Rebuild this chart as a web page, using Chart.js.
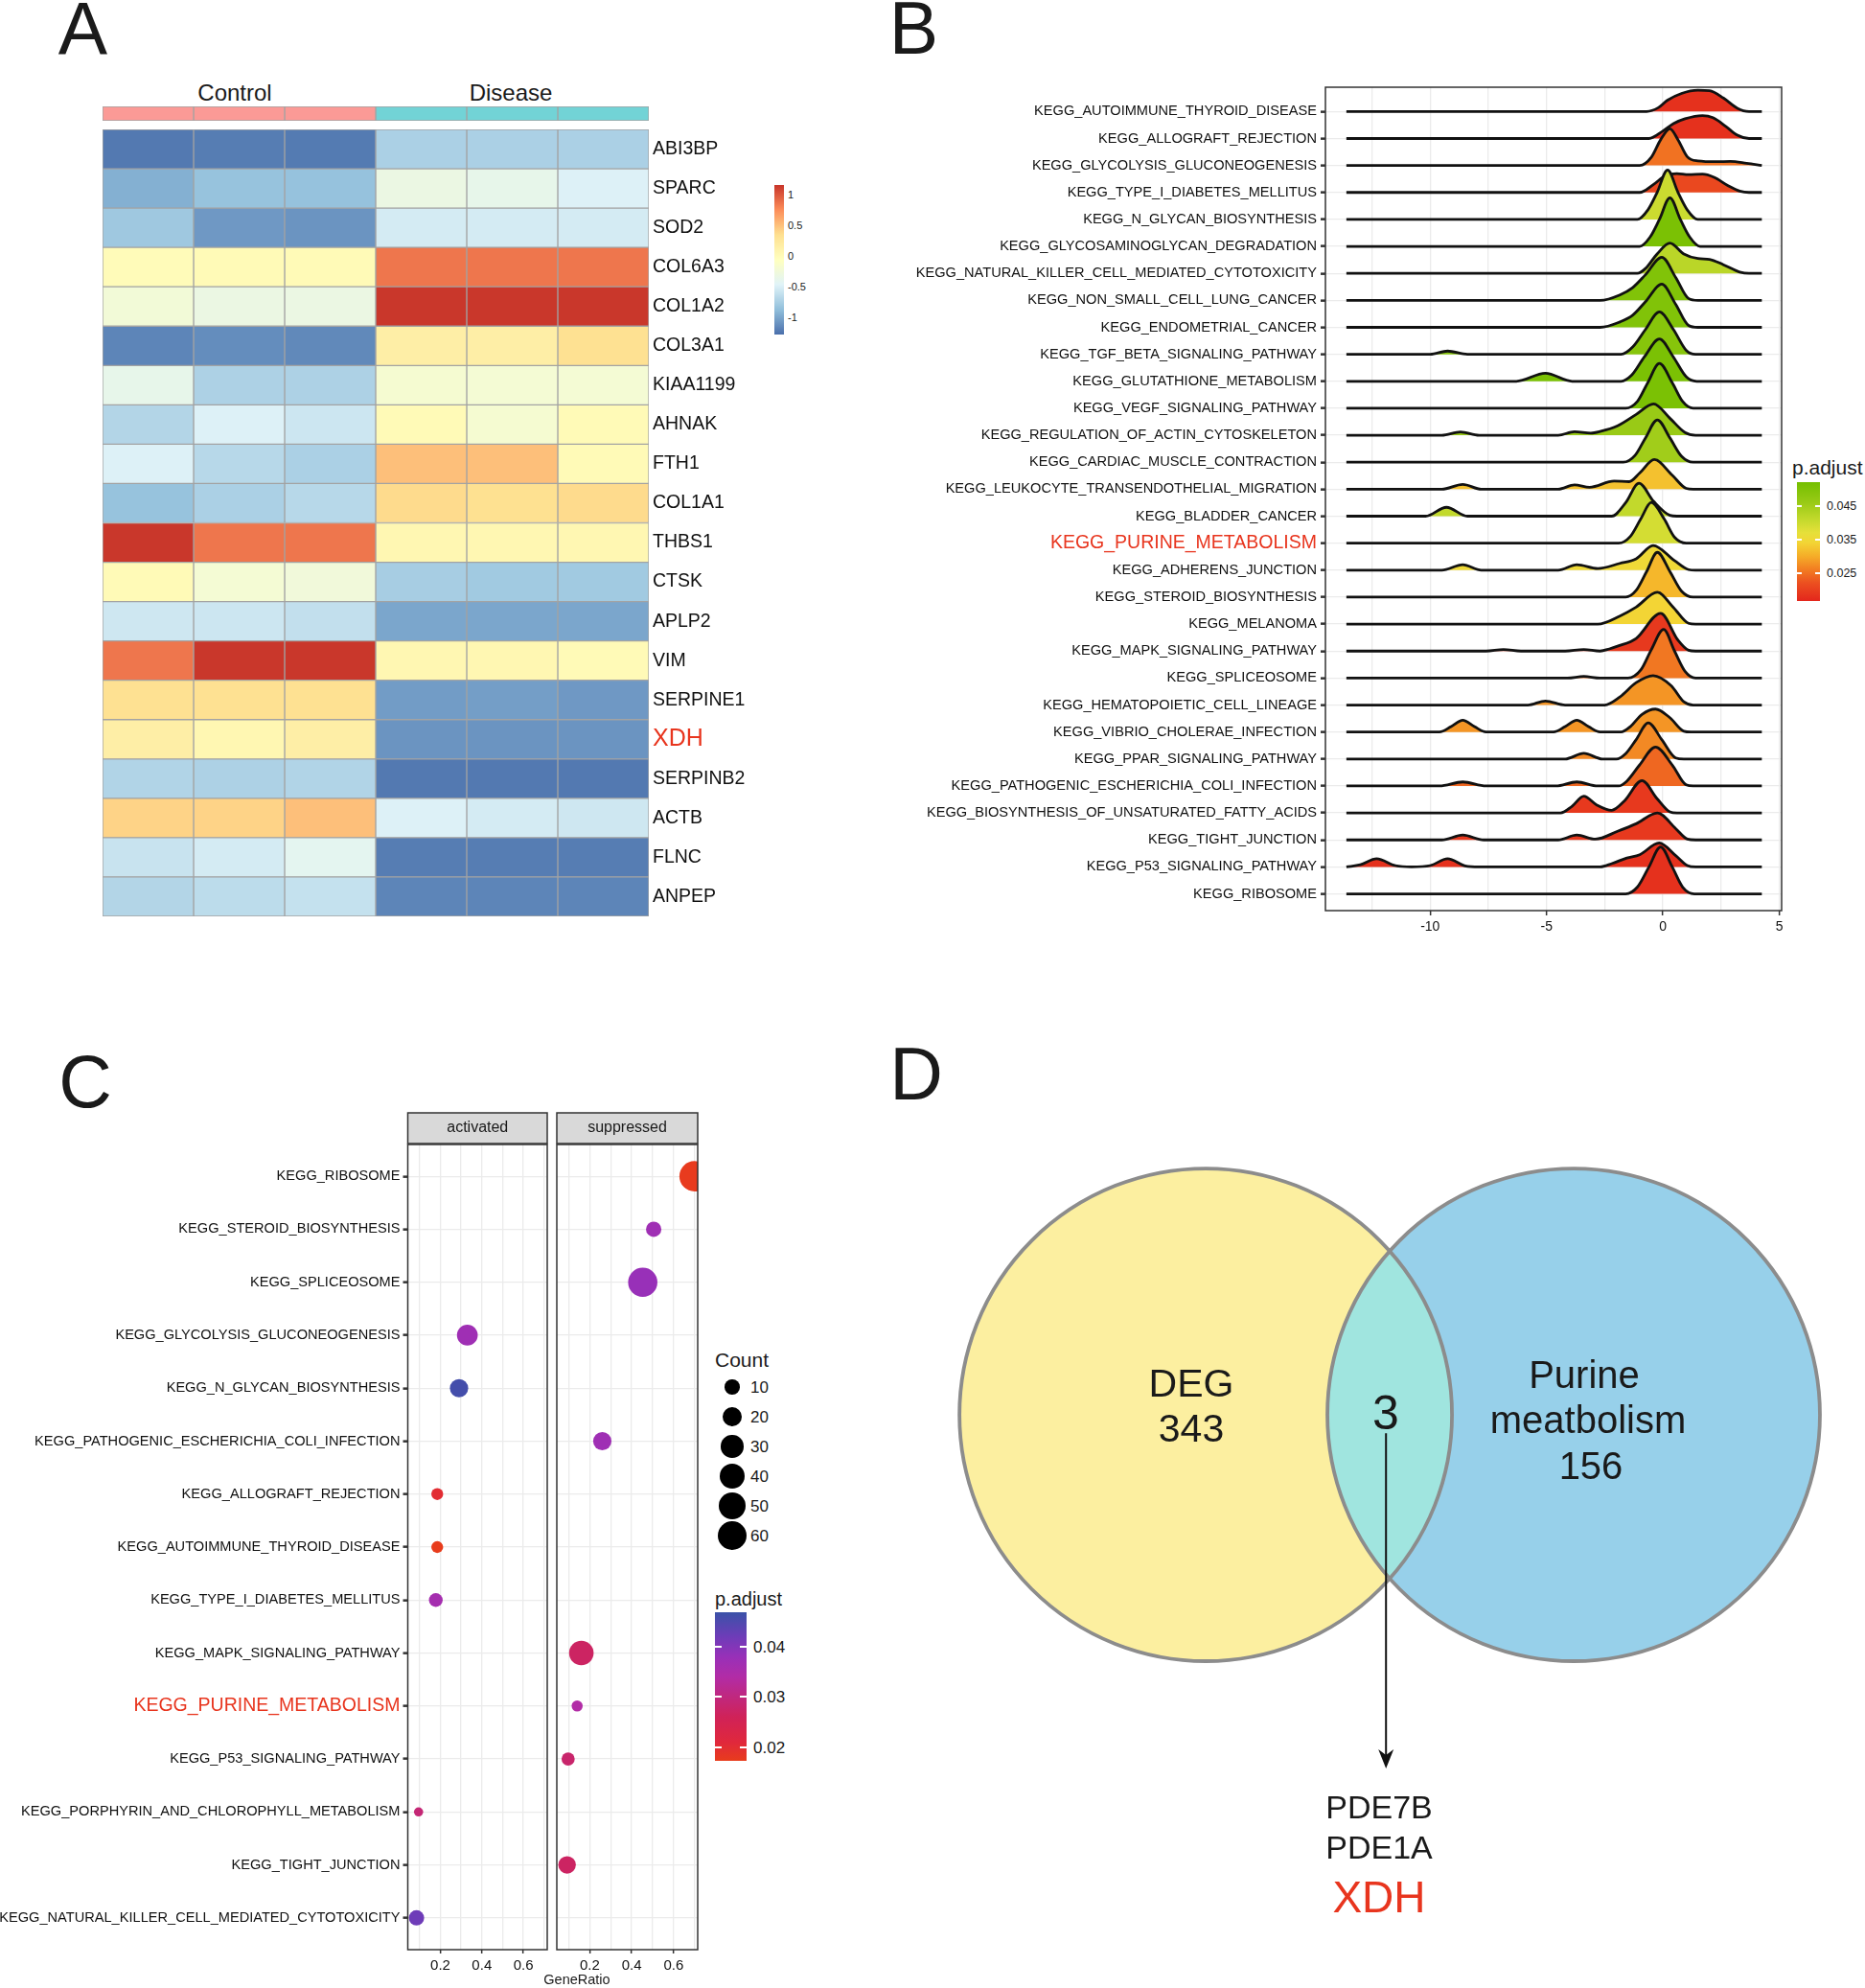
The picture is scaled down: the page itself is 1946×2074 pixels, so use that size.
<!DOCTYPE html>
<html lang="en">
<head>
<meta charset="UTF-8" />
<title>Heatmap · GSEA ridgeplot · dotplot · Venn</title>
<script src="https://cdn.jsdelivr.net/npm/chart.js@4.4.3/dist/chart.umd.js"></script>
<style>
  html,body{margin:0;padding:0;background:#fff}
  body{position:relative;width:1946px;height:2074px;overflow:hidden;
       font-family:"Liberation Sans",Arial,Helvetica,sans-serif;color:#1a1a1a}
  canvas{position:absolute;display:block}
  .lbl{position:absolute;white-space:nowrap;line-height:1}
  .box{position:absolute}
</style>
</head>
<body>
  <!-- A : heatmap -->
  <canvas id="hmAnno" width="570" height="15" style="left:107px;top:111px"></canvas>
  <canvas id="hmChart" width="707" height="831" style="left:100px;top:130px"></canvas>
  <!-- B : ridgeplot -->
  <canvas id="ridgeChart" width="930" height="900" style="left:940px;top:80px"></canvas>
  <!-- C : dotplot, two facets -->
  <canvas id="dotAct" width="580" height="924" style="left:0;top:1150px"></canvas>
  <canvas id="dotSup" width="162" height="924" style="left:576px;top:1150px"></canvas>
  <!-- D : Venn -->
  <canvas id="vennChart" width="996" height="894" style="left:950px;top:1180px"></canvas>

<script>
/* ==== PANEL A DATA : heatmap (row z-scores) ==== */
const hmGenes = ['ABI3BP','SPARC','SOD2','COL6A3','COL1A2','COL3A1','KIAA1199','AHNAK','FTH1','COL1A1',
                 'THBS1','CTSK','APLP2','VIM','SERPINE1','XDH','SERPINB2','ACTB','FLNC','ANPEP'];
const hmGroups = ['Control','Control','Control','Disease','Disease','Disease'];
const hmZ = [
  [-1.22,-1.20,-1.21,-0.73,-0.73,-0.73],
  [-0.94,-0.83,-0.84,-0.31,-0.36,-0.47],
  [-0.79,-1.06,-1.08,-0.52,-0.52,-0.52],
  [ 0.00, 0.02, 0.02, 0.87, 0.87, 0.87],
  [-0.22,-0.31,-0.31, 1.16, 1.16, 1.16],
  [-1.16,-1.12,-1.14, 0.17, 0.17, 0.34],
  [-0.36,-0.72,-0.72,-0.18,-0.20,-0.20],
  [-0.69,-0.47,-0.56, 0.02,-0.18, 0.02],
  [-0.47,-0.67,-0.73, 0.52, 0.52, 0.02],
  [-0.83,-0.73,-0.67, 0.38, 0.35, 0.38],
  [ 1.16, 0.87, 0.87, 0.06, 0.06, 0.06],
  [ 0.02,-0.20,-0.24,-0.75,-0.78,-0.78],
  [-0.55,-0.56,-0.61,-0.99,-0.99,-0.99],
  [ 0.87, 1.16, 1.16, 0.06, 0.06, 0.02],
  [ 0.34, 0.34, 0.34,-1.04,-1.03,-1.06],
  [ 0.17, 0.06, 0.17,-1.08,-1.08,-1.08],
  [-0.70,-0.72,-0.70,-1.22,-1.22,-1.22],
  [ 0.42, 0.42, 0.52,-0.47,-0.52,-0.55],
  [-0.58,-0.52,-0.40,-1.20,-1.20,-1.20],
  [-0.69,-0.64,-0.60,-1.16,-1.16,-1.16]
];
const hmLegendTicks = [1, 0.5, 0, -0.5, -1];

/* ==== PANEL B DATA : ridgeplot (top row first) ==== */
const ridgePaths = [
  'KEGG_AUTOIMMUNE_THYROID_DISEASE','KEGG_ALLOGRAFT_REJECTION','KEGG_GLYCOLYSIS_GLUCONEOGENESIS',
  'KEGG_TYPE_I_DIABETES_MELLITUS','KEGG_N_GLYCAN_BIOSYNTHESIS','KEGG_GLYCOSAMINOGLYCAN_DEGRADATION',
  'KEGG_NATURAL_KILLER_CELL_MEDIATED_CYTOTOXICITY','KEGG_NON_SMALL_CELL_LUNG_CANCER','KEGG_ENDOMETRIAL_CANCER',
  'KEGG_TGF_BETA_SIGNALING_PATHWAY','KEGG_GLUTATHIONE_METABOLISM','KEGG_VEGF_SIGNALING_PATHWAY',
  'KEGG_REGULATION_OF_ACTIN_CYTOSKELETON','KEGG_CARDIAC_MUSCLE_CONTRACTION','KEGG_LEUKOCYTE_TRANSENDOTHELIAL_MIGRATION',
  'KEGG_BLADDER_CANCER','KEGG_PURINE_METABOLISM','KEGG_ADHERENS_JUNCTION','KEGG_STEROID_BIOSYNTHESIS',
  'KEGG_MELANOMA','KEGG_MAPK_SIGNALING_PATHWAY','KEGG_SPLICEOSOME','KEGG_HEMATOPOIETIC_CELL_LINEAGE',
  'KEGG_VIBRIO_CHOLERAE_INFECTION','KEGG_PPAR_SIGNALING_PATHWAY','KEGG_PATHOGENIC_ESCHERICHIA_COLI_INFECTION',
  'KEGG_BIOSYNTHESIS_OF_UNSATURATED_FATTY_ACIDS','KEGG_TIGHT_JUNCTION','KEGG_P53_SIGNALING_PATHWAY','KEGG_RIBOSOME'
];
const ridgePadj = [0.018,0.018,0.025,0.021,0.040,0.051,0.042,0.050,0.050,0.049,0.051,0.051,0.046,0.045,0.032,
                   0.041,0.039,0.035,0.031,0.034,0.019,0.0255,0.028,0.028,0.027,0.024,0.019,0.019,0.018,0.018];
// density outline per row: [log2FC, height in row units]
const ridgeDens = [
  [[-0.7,0],[-0.2,0.14],[0.2,0.42],[0.8,0.67],[1.5,0.79],[2.0,0.77],[2.6,0.5],[3.2,0.12],[3.7,0]],
  [[-0.6,0],[0.0,0.28],[0.45,0.55],[0.95,0.73],[1.7,0.85],[2.15,0.77],[2.7,0.45],[3.2,0.12],[3.7,0]],
  [[-1.0,0],[-0.5,0.3],[-0.1,0.95],[0.3,1.36],[0.65,0.95],[1.05,0.32],[1.5,0.17],[2.3,0.14],[2.9,0.15],[3.6,0.08],[4.25,0]],
  [[-1.0,0],[-0.4,0.3],[0.1,0.62],[0.6,0.7],[1.1,0.66],[1.7,0.68],[2.2,0.56],[2.8,0.25],[3.3,0.05],[3.7,0]],
  [[-1.1,0],[-0.65,0.35],[-0.25,1.0],[0.2,1.83],[0.65,1.0],[1.05,0.35],[1.5,0]],
  [[-1.0,0],[-0.55,0.35],[-0.15,1.0],[0.3,1.8],[0.75,1.0],[1.15,0.35],[1.6,0]],
  [[-1.1,0],[-0.75,0.18],[-0.25,0.72],[0.3,1.12],[0.9,0.72],[1.5,0.55],[2.0,0.52],[2.6,0.32],[3.3,0.05],[3.7,0]],
  [[-2.7,0],[-1.85,0.2],[-1.3,0.47],[-0.75,0.95],[-0.05,1.6],[0.55,0.85],[1.1,0.07],[1.5,0]],
  [[-2.7,0],[-1.85,0.2],[-1.3,0.45],[-0.75,0.95],[-0.05,1.6],[0.55,0.85],[1.1,0.07],[1.5,0]],
  [[-10.0,0],[-9.25,0.12],[-8.4,0],[-1.8,0],[-1.3,0.27],[-0.75,0.92],[-0.15,1.57],[0.45,0.92],[1.0,0.15],[1.4,0]],
  [[-6.3,0],[-5.05,0.3],[-3.9,0],[-1.8,0],[-1.35,0.22],[-0.8,0.9],[-0.15,1.57],[0.45,0.9],[1.0,0.17],[1.45,0]],
  [[-1.6,0],[-1.1,0.25],[-0.65,0.95],[-0.15,1.66],[0.4,0.95],[0.85,0.25],[1.3,0]],
  [[-9.5,0],[-8.7,0.12],[-7.9,0],[-4.5,0],[-3.8,0.13],[-3.1,0.08],[-2.7,0.14],[-1.95,0.35],[-1.15,0.77],[-0.4,1.16],[0.3,0.63],[0.95,0.1],[1.4,0]],
  [[-1.7,0],[-1.2,0.25],[-0.75,0.9],[-0.24,1.57],[0.3,0.9],[0.8,0.22],[1.3,0]],
  [[-9.5,0],[-8.6,0.18],[-7.8,0],[-4.5,0],[-3.8,0.16],[-3.15,0.07],[-2.1,0.3],[-1.45,0.28],[-1.0,0.6],[-0.37,1.1],[0.4,0.52],[1.0,0.03],[1.3,0]],
  [[-10.2,0],[-9.3,0.33],[-8.4,0],[-2.2,0],[-1.6,0.5],[-1.03,1.22],[-0.4,0.55],[0.3,0.03],[0.6,0]],
  [[-1.9,0],[-1.4,0.25],[-0.95,0.9],[-0.5,1.51],[0.05,0.9],[0.5,0.22],[1.0,0]],
  [[-9.5,0],[-8.6,0.2],[-7.8,0],[-4.5,0],[-3.7,0.2],[-2.8,0.06],[-1.85,0.25],[-1.15,0.42],[-0.42,0.91],[0.5,0.35],[1.1,0.02],[1.4,0]],
  [[-1.6,0],[-1.15,0.25],[-0.7,0.95],[-0.24,1.66],[0.3,0.95],[0.8,0.22],[1.3,0]],
  [[-2.8,0],[-1.85,0.3],[-1.15,0.63],[-0.24,1.18],[0.45,0.62],[1.1,0.03],[1.4,0]],
  [[-7.6,0],[-6.85,0.06],[-6.1,0],[-4.2,0],[-3.4,0.06],[-2.7,0],[-2.3,0.08],[-1.95,0.18],[-1.15,0.47],[-0.1,1.4],[0.65,0.4],[1.1,0.03],[1.4,0]],
  [[-4.1,0],[-3.4,0.06],[-2.7,0],[-1.5,0],[-0.95,0.3],[-0.5,1.05],[0.03,1.8],[0.5,1.0],[0.95,0.25],[1.4,0]],
  [[-5.8,0],[-5.05,0.15],[-4.2,0],[-2.5,0],[-1.85,0.3],[-1.15,0.83],[-0.42,1.09],[0.35,0.72],[0.9,0.12],[1.3,0]],
  [[-9.6,0],[-9.1,0.2],[-8.6,0.44],[-8.1,0.2],[-7.6,0],[-4.7,0],[-4.2,0.2],[-3.7,0.44],[-3.2,0.2],[-2.7,0],[-1.8,0],[-1.4,0.2],[-0.9,0.65],[-0.32,0.85],[0.3,0.53],[0.9,0.03],[1.2,0]],
  [[-4.2,0],[-3.4,0.21],[-2.6,0],[-2.0,0],[-1.6,0.2],[-1.15,0.72],[-0.63,1.34],[-0.05,0.72],[0.55,0.04],[0.9,0]],
  [[-9.6,0],[-8.6,0.15],[-7.6,0],[-4.6,0],[-3.7,0.15],[-2.8,0],[-1.9,0],[-1.55,0.18],[-1.0,0.78],[-0.32,1.44],[0.4,0.78],[1.0,0.04],[1.3,0]],
  [[-4.4,0],[-3.9,0.25],[-3.4,0.62],[-2.85,0.3],[-2.2,0.1],[-1.65,0.45],[-0.9,1.2],[-0.25,0.53],[0.3,0.04],[0.6,0]],
  [[-9.5,0],[-8.6,0.18],[-7.7,0],[-4.5,0],[-3.7,0.18],[-2.9,0.03],[-1.95,0.32],[-1.15,0.6],[-0.24,1.0],[0.55,0.42],[1.05,0.03],[1.4,0]],
  [[-13.6,0],[-13.0,0.08],[-12.3,0.3],[-11.5,0.05],[-10.8,0],[-10.0,0.05],[-9.25,0.3],[-8.5,0.04],[-7.9,0],[-2.7,0],[-2.2,0.12],[-1.55,0.33],[-1.0,0.45],[-0.16,0.89],[0.55,0.42],[1.05,0.05],[1.4,0]],
  [[-1.6,0],[-1.1,0.25],[-0.6,1.0],[-0.1,1.74],[0.4,1.0],[0.85,0.25],[1.35,0]]
];
const ridgeFrom = -13.6, ridgeTo = 4.25;     // density support
const ridgeLegendTicks = [0.045, 0.035, 0.025];

/* ==== PANEL C DATA : dotplot ==== */
const dotPaths = [
  'KEGG_RIBOSOME','KEGG_STEROID_BIOSYNTHESIS','KEGG_SPLICEOSOME','KEGG_GLYCOLYSIS_GLUCONEOGENESIS',
  'KEGG_N_GLYCAN_BIOSYNTHESIS','KEGG_PATHOGENIC_ESCHERICHIA_COLI_INFECTION','KEGG_ALLOGRAFT_REJECTION',
  'KEGG_AUTOIMMUNE_THYROID_DISEASE','KEGG_TYPE_I_DIABETES_MELLITUS','KEGG_MAPK_SIGNALING_PATHWAY',
  'KEGG_PURINE_METABOLISM','KEGG_P53_SIGNALING_PATHWAY','KEGG_PORPHYRIN_AND_CHLOROPHYLL_METABOLISM',
  'KEGG_TIGHT_JUNCTION','KEGG_NATURAL_KILLER_CELL_MEDIATED_CYTOTOXICITY'
];
const actPath  = ['KEGG_GLYCOLYSIS_GLUCONEOGENESIS','KEGG_N_GLYCAN_BIOSYNTHESIS','KEGG_ALLOGRAFT_REJECTION',
                  'KEGG_AUTOIMMUNE_THYROID_DISEASE','KEGG_TYPE_I_DIABETES_MELLITUS',
                  'KEGG_PORPHYRIN_AND_CHLOROPHYLL_METABOLISM','KEGG_NATURAL_KILLER_CELL_MEDIATED_CYTOTOXICITY'];
const actRatio = [0.33, 0.29, 0.185, 0.185, 0.178, 0.095, 0.085];
const actCount = [25, 18, 5, 5, 8, 2, 11];
const actPadj  = [0.037, 0.046, 0.020, 0.017, 0.036, 0.029, 0.042];
const supPath  = ['KEGG_RIBOSOME','KEGG_STEROID_BIOSYNTHESIS','KEGG_SPLICEOSOME',
                  'KEGG_PATHOGENIC_ESCHERICHIA_COLI_INFECTION','KEGG_MAPK_SIGNALING_PATHWAY',
                  'KEGG_PURINE_METABOLISM','KEGG_P53_SIGNALING_PATHWAY','KEGG_TIGHT_JUNCTION'];
const supRatio = [0.70, 0.505, 0.453, 0.26, 0.16, 0.14, 0.097, 0.092];
const supCount = [63, 11, 58, 18, 38, 4, 7, 16];
const supPadj  = [0.0175, 0.037, 0.038, 0.037, 0.027, 0.034, 0.028, 0.027];
const countBreaks = [10, 20, 30, 40, 50, 60];
const dotLegendTicks = [0.04, 0.03, 0.02];

/* ==== PANEL D DATA : Venn ==== */
const vennSets   = ['DEG', 'Purine meatbolism'];
const vennOnly   = [343, 156];
const vennShared = 3;
const vennGenes  = ['PDE7B', 'PDE1A', 'XDH'];

/* ==== colour scales ==== */
const hmMin = -1.27, hmMax = 1.17;
const hmPalette = ['#4a6fab','#91bfdb','#e0f3f8','#ffffbf','#fee090','#fc8d59','#c8352a'];
const hmStops = hmPalette.map((c,i)=>[hmMin + i*(hmMax-hmMin)/6, c]);
const groupCol = {Control:'#fb9a96', Disease:'#72d3d6'};
const ridgeStops = [[0.0166,'#e3261c'],[0.022,'#ec5020'],[0.026,'#f27d22'],[0.030,'#f5ad28'],[0.034,'#f3d535'],
                    [0.037,'#e6e03a'],[0.041,'#c2d92c'],[0.046,'#99ca16'],[0.0521,'#74bf00']];
const dotStops = [[0.0173,'#e83c1c'],[0.021,'#e0283c'],[0.026,'#d02258'],[0.030,'#c0287e'],[0.034,'#b22ca6'],
                  [0.038,'#9830b8'],[0.042,'#6e3cb8'],[0.0469,'#3a52a8']];
const RED = '#e8351e';
const FONT = '"Liberation Sans", Arial, Helvetica, sans-serif';
const PATH_FS = 14.6, PURINE_FS = 19.5;

/* ==== helpers ==== */
const hex = h => { const n = parseInt(h.slice(1),16); return [n>>16&255, n>>8&255, n&255]; };
function ramp(stops, v){
  if (v <= stops[0][0]) return stops[0][1];
  for (let i = 1; i < stops.length; i++){
    if (v <= stops[i][0]){
      const t = (v - stops[i-1][0])/(stops[i][0] - stops[i-1][0]);
      const a = hex(stops[i-1][1]), b = hex(stops[i][1]);
      return 'rgb(' + a.map((x,k)=>Math.round(x + (b[k]-x)*t)).join(',') + ')';
    }
  }
  return stops[stops.length-1][1];
}
function cssRamp(stops, vTop, vBot){
  const list = stops.map(([v,c]) => [(vTop - v)/(vTop - vBot)*100, c]).sort((a,b)=>a[0]-b[0]);
  return 'linear-gradient(to bottom,' + list.map(([p,c]) => c + ' ' + p.toFixed(2) + '%').join(',') + ')';
}
function addText(txt, x, yc, fs, o = {}){
  const d = document.createElement('div');
  d.className = 'lbl'; d.textContent = txt;
  d.style.fontSize = fs + 'px';
  d.style.top = (yc - 0.4885*fs) + 'px';
  d.style.left = x + 'px';
  if ((o.align || 'center') === 'center') d.style.transform = 'translateX(-50%)';
  if (o.color) d.style.color = o.color;
  document.body.appendChild(d);
  return d;
}
function addBox(x, y, w, h, bg, round){
  const d = document.createElement('div');
  d.className = 'box';
  Object.assign(d.style, {left:x+'px', top:y+'px', width:w+'px', height:h+'px', background:bg});
  if (round) d.style.borderRadius = '50%';
  document.body.appendChild(d);
  return d;
}
function colourbar(o){
  addBox(o.x, o.y, o.w, o.h, cssRamp(o.stops, o.vTop, o.vBot));
  o.ticks.forEach(v => {
    const ty = o.y + (o.vTop - v)/(o.vTop - o.vBot)*o.h;
    if (o.marks){
      addBox(o.x, ty-1, o.w*0.2, 2, '#fff');
      addBox(o.x + o.w*0.8, ty-1, o.w*0.2, 2, '#fff');
    }
    addText(o.fmt(v), o.x + o.w + o.gap, ty, o.fs, {align:'left'});
  });
}
const dotRadius = n => 2.4 + 1.69*Math.sqrt(n);
// keep chart areas where they are put: drop the label overflow padding
const noPad = s => { s.paddingTop = 0; s.paddingBottom = 0; s.paddingLeft = 0; s.paddingRight = 0; };

/* ==== shared plugins ==== */
const panelBorder = {
  id:'panelBorder',
  afterDraw(chart, args, opts){
    const {ctx, chartArea:a} = chart;
    ctx.save();
    ctx.strokeStyle = opts.color || '#333'; ctx.lineWidth = opts.width || 1.5;
    ctx.strokeRect(a.left, a.top, a.right - a.left, a.bottom - a.top);
    ctx.restore();
  }
};
const facetStrip = {
  id:'facetStrip',
  afterDraw(chart, args, opts){
    if (!opts.text) return;
    const {ctx, chartArea:a} = chart;
    ctx.save();
    ctx.fillStyle = '#d9d9d9';
    ctx.fillRect(a.left, a.top - 33, a.right - a.left, 32);
    ctx.strokeStyle = '#333'; ctx.lineWidth = 1.5;
    ctx.strokeRect(a.left, a.top - 33, a.right - a.left, 32);
    ctx.fillStyle = '#1a1a1a';
    ctx.font = '16px ' + FONT;
    ctx.textAlign = 'center'; ctx.textBaseline = 'middle';
    ctx.fillText(opts.text, (a.left + a.right)/2, a.top - 17);
    ctx.restore();
  }
};

Chart.defaults.font.family = FONT;
Chart.defaults.color = '#111';
Chart.defaults.animation = false;
Chart.defaults.responsive = false;
Chart.defaults.events = [];
Chart.defaults.layout.autoPadding = false;
Chart.defaults.plugins.legend.display = false;
Chart.defaults.plugins.tooltip.enabled = false;

/* ==== A : heatmap ==== */
new Chart(document.getElementById('hmAnno'), {
  type:'bar',
  data:{labels:['group'], datasets: hmGroups.map(g => ({
    data:[1], backgroundColor: groupCol[g], borderColor:'#a3a3a3', borderWidth:1,
    borderSkipped:false, barPercentage:1, categoryPercentage:1
  }))},
  options:{indexAxis:'y', layout:{padding:0},
    scales:{x:{stacked:true, display:false, min:0, max:hmGroups.length}, y:{stacked:true, display:false}}}
});

new Chart(document.getElementById('hmChart'), {
  type:'bar',
  data:{labels: hmGenes, datasets: hmGroups.map((g,k) => ({
    data: hmGenes.map(() => 1),
    backgroundColor: hmZ.map(r => ramp(hmStops, r[k])),
    borderColor:'#a3a3a3', borderWidth:1, borderSkipped:false,
    barPercentage:1, categoryPercentage:1
  }))},
  options:{
    indexAxis:'y',
    layout:{padding:{left:7, right:0, top:5, bottom:5}},
    scales:{
      x:{stacked:true, display:false, min:0, max:hmGroups.length},
      y:{stacked:true, position:'right', border:{display:false},
         grid:{display:false, drawTicks:false},
         ticks:{autoSkip:false, padding:4,
                color: c => hmGenes[c.index] === 'XDH' ? RED : '#111',
                font:  c => ({size: hmGenes[c.index] === 'XDH' ? 25 : 19.5})},
         afterFit: s => { noPad(s); s.width = 130; }}
    }
  }
});
addText('A', 86.5, 29.5, 77);
addText('Control', 245, 97, 24);
addText('Disease', 533, 97, 24);
colourbar({x:808, y:193, w:10, h:156, vTop:hmMax, vBot:hmMin, stops:hmStops,
           ticks:hmLegendTicks, fmt:v => String(v), fs:11, gap:4, marks:false});

/* ==== B : ridgeplot ==== */
const nR = ridgePaths.length;
const ridgeSets = [];
for (let i = nR - 1; i >= 0; i--){          // bottom row first -> drawn on top
  const base = nR - 1 - i, pts = ridgeDens[i].slice();
  if (pts[0][0] > ridgeFrom) pts.unshift([ridgeFrom, 0]);
  if (pts[pts.length-1][0] < ridgeTo) pts.push([ridgeTo, 0]);
  ridgeSets.push({
    data: pts.map(([x,h]) => ({x, y: base + h})),
    fill:{value: base}, backgroundColor: ramp(ridgeStops, ridgePadj[i]),
    borderColor:'#111', borderWidth:2.8, pointRadius:0,
    cubicInterpolationMode:'monotone'
  });
}
const ridgeLabel = v => ridgePaths[nR - 1 - v];
const isPurine = s => s === 'KEGG_PURINE_METABOLISM';
const tickPurine = (c, lab) => !!(c.tick && isPurine(lab(c.tick.value)));
new Chart(document.getElementById('ridgeChart'), {
  type:'line',
  data:{datasets: ridgeSets},
  options:{
    layout:{padding:{left:0, right:11, top:11, bottom:0}},
    scales:{
      x:{type:'linear', min:-14.5, max:5.1, border:{display:false},
         ticks:{stepSize:2.5, includeBounds:false, autoSkip:false, maxRotation:0, padding:4,
                font:{size:14}, callback: v => (v % 5 === 0 ? String(v) : '')},
         grid:{color:'#ebebeb', lineWidth:1.3, tickLength:5, tickWidth:1.5,
               tickColor: c => (c.tick && c.tick.value % 5 === 0 ? '#333' : 'rgba(0,0,0,0)')},
         afterFit: s => { noPad(s); s.height = 30; }},
      y:{type:'linear', min:-0.62, max:29.9, border:{display:false},
         ticks:{stepSize:1, includeBounds:false, autoSkip:false, padding:4,
                callback: v => ridgeLabel(v),
                color: c => tickPurine(c, ridgeLabel) ? RED : '#111',
                font:  c => ({size: tickPurine(c, ridgeLabel) ? PURINE_FS : PATH_FS})},
         grid:{color:'#ebebeb', lineWidth:1.3, tickLength:5, tickWidth:2.5, tickColor:'#333'},
         afterFit: s => { noPad(s); s.width = 443; }}
    },
    plugins:{panelBorder:{color:'#333', width:1.5}}
  },
  plugins:[panelBorder]
});
addText('B', 953.5, 29, 77);
addText('p.adjust', 1870, 487, 21, {align:'left'});
colourbar({x:1875, y:503, w:24, h:124, vTop:0.05206, vBot:0.01663, stops:ridgeStops,
           ticks:ridgeLegendTicks, fmt:v => v.toFixed(3), fs:12.5, gap:7, marks:true});

/* ==== C : dotplot ==== */
const nC = dotPaths.length;
const dotLabel = v => dotPaths[nC - 1 - v];
function dotChart(id, facet, paths, ratio, count, padj, withLabels){
  return new Chart(document.getElementById(id), {
    type:'bubble',
    data:{datasets:[{
      data: paths.map((p,i) => ({x: ratio[i], y: nC - 1 - dotPaths.indexOf(p), r: dotRadius(count[i])})),
      backgroundColor: padj.map(v => ramp(dotStops, v)),
      borderWidth:0, hoverRadius:0, clip:0
    }]},
    options:{
      layout:{padding: withLabels ? {left:0, right:9, top:44, bottom:0} : {left:5, right:10, top:44, bottom:0}},
      scales:{
        x:{type:'linear', min:0.043, max:0.715, border:{display:false},
           ticks:{stepSize:0.1, includeBounds:false, autoSkip:false, maxRotation:0, padding:4, font:{size:15},
                  callback: v => (Math.round(v*10) % 2 === 0 ? v.toFixed(1) : '')},
           grid:{color:'#ebebeb', lineWidth:1.3, tickLength:4, tickWidth:1.5,
                 tickColor: c => (c.tick && Math.round(c.tick.value*10) % 2 === 0 ? '#333' : 'rgba(0,0,0,0)')},
           afterFit: s => { noPad(s); s.height = 40; }},
        y:{type:'linear', min:-0.6, max:nC - 0.4, border:{display:false},
           ticks: withLabels ? {
                  stepSize:1, includeBounds:false, autoSkip:false, padding:3,
                  callback: v => dotLabel(v),
                  color: c => tickPurine(c, dotLabel) ? RED : '#111',
                  font:  c => ({size: tickPurine(c, dotLabel) ? PURINE_FS : PATH_FS})}
                : {stepSize:1, includeBounds:false, display:false},
           grid: withLabels ? {color:'#ebebeb', lineWidth:1.3, tickLength:5, tickWidth:2.5, tickColor:'#333'}
                            : {color:'#ebebeb', lineWidth:1.3, drawTicks:false},
           afterFit: s => { noPad(s); s.width = withLabels ? 425.5 : 0; }}
      },
      plugins:{panelBorder:{color:'#333', width:1.5}, facetStrip:{text: facet}}
    },
    plugins:[panelBorder, facetStrip]
  });
}
dotChart('dotAct', 'activated',  actPath, actRatio, actCount, actPadj, true);
dotChart('dotSup', 'suppressed', supPath, supRatio, supCount, supPadj, false);
addText('C', 89, 1127.5, 77);
addText('GeneRatio', 602, 2065, 14.5);
addText('Count', 746, 1418, 21, {align:'left'});
const countY = [1447, 1478, 1509, 1540, 1571, 1602];
countBreaks.forEach((n,i) => {
  const r = dotRadius(n);
  addBox(764 - r, countY[i] - r, 2*r, 2*r, '#000', true);
  addText(String(n), 783, countY[i], 17, {align:'left'});
});
addText('p.adjust', 746, 1668, 20, {align:'left'});
colourbar({x:746, y:1682, w:33, h:155, vTop:0.0469, vBot:0.0173, stops:dotStops,
           ticks:dotLegendTicks, fmt:v => v.toFixed(2), fs:17, gap:7, marks:true});

/* ==== D : Venn ==== */
const vennLens = {
  id:'vennLens',
  afterDatasetsDraw(chart, args, o){
    const {ctx} = chart;
    const a = chart.getDatasetMeta(0).data[0], b = chart.getDatasetMeta(1).data[0];
    if (!a || !b) return;
    const ra = a.options.radius, rb = b.options.radius;
    ctx.save();
    ctx.beginPath(); ctx.arc(a.x, a.y, ra, 0, 2*Math.PI); ctx.clip();
    ctx.beginPath(); ctx.arc(b.x, b.y, rb, 0, 2*Math.PI);
    ctx.fillStyle = o.fill; ctx.fill();
    ctx.restore();
    ctx.save();
    ctx.strokeStyle = o.stroke; ctx.lineWidth = o.width;
    ctx.beginPath(); ctx.arc(a.x, a.y, ra, 0, 2*Math.PI); ctx.stroke();
    ctx.beginPath(); ctx.arc(b.x, b.y, rb, 0, 2*Math.PI); ctx.stroke();
    ctx.restore();
    // arrow from the shared count down to the gene list
    const xs = chart.scales.x, ys = chart.scales.y;
    const ax = xs.getPixelForValue(o.arrow[0]), y0 = ys.getPixelForValue(o.arrow[1]), y1 = ys.getPixelForValue(o.arrow[2]);
    ctx.save();
    ctx.strokeStyle = '#111'; ctx.fillStyle = '#111'; ctx.lineWidth = 2;
    ctx.beginPath(); ctx.moveTo(ax, y0); ctx.lineTo(ax, y1 - 12); ctx.stroke();
    ctx.beginPath(); ctx.moveTo(ax, y1); ctx.lineTo(ax - 8, y1 - 20); ctx.lineTo(ax, y1 - 14); ctx.lineTo(ax + 8, y1 - 20);
    ctx.closePath(); ctx.fill();
    ctx.restore();
  }
};
const venn = new Chart(document.getElementById('vennChart'), {
  type:'bubble',
  data:{datasets:[
    {label: vennSets[0], data:[{x:-0.747, y:0, r:1}], backgroundColor:'#fcefa0', borderWidth:0, clip:false},
    {label: vennSets[1], data:[{x: 0.747, y:0, r:1}], backgroundColor:'#97d0ea', borderWidth:0, clip:false}
  ]},
  options:{
    layout:{padding:0},
    scales:{x:{type:'linear', min:-1.946, max:1.93, display:false},
            y:{type:'linear', min:-2.327, max:1.152, display:false}},
    plugins:{vennLens:{fill:'#a0e5df', stroke:'#8c8c8c', width:3.8, arrow:[-0.015, -0.075, -1.436]}}
  },
  plugins:[vennLens]
});
// circles of radius 1 data unit: convert through the x scale once the layout is known
const vennUnit = venn.scales.x.getPixelForValue(1) - venn.scales.x.getPixelForValue(0);
venn.data.datasets.forEach(d => { d.data[0].r = vennUnit; });
venn.update();

addText('D', 956, 1120, 77);
addText(vennSets[0], 1243, 1443, 41);
addText(String(vennOnly[0]), 1243, 1490, 41);
const purineWords = vennSets[1].split(' ');
addText(purineWords[0], 1653, 1434, 40);
addText(purineWords[1], 1657, 1481, 40);
addText(String(vennOnly[1]), 1660, 1529, 40);
addText(String(vennShared), 1446, 1473, 50);
addText(vennGenes[0], 1439, 1885, 34);
addText(vennGenes[1], 1439, 1927, 34);
addText(vennGenes[2], 1439, 1978, 46, {color: RED});
</script>
</body>
</html>
